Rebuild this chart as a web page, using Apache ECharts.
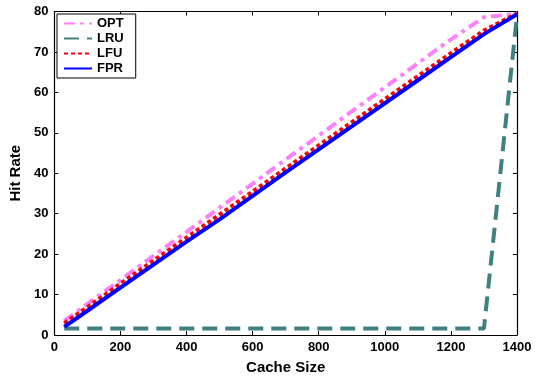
<!DOCTYPE html>
<html>
<head>
<meta charset="utf-8">
<script src="https://cdn.jsdelivr.net/npm/echarts@6/dist/echarts.min.js"></script>
<style>html,body{margin:0;padding:0;background:#fff;}#c{width:535px;height:380px;}</style>
</head>
<body>
<div id="c"></div>
<script>
var cacheSizes = [30, 100, 200, 300, 400, 500, 600, 700, 800, 900, 1000, 1100, 1200, 1300, 1400];
var optRate = [3.5, 7.7, 13.6, 19.6, 25.5, 31.5, 37.4, 43.4, 49.3, 55.3, 61.2, 67.2, 73.1, 78.6, 79.5];
var lruRate = [1.6, 1.6, 1.6, 1.6, 1.6, 1.6, 1.6, 1.6, 1.6, 1.6, 1.6, 1.6, 1.6, 1.6, 79.0];
var lfuRate = [2.9, 6.9, 12.7, 18.4, 24.1, 29.8, 35.5, 41.2, 46.9, 52.6, 58.3, 64.0, 69.7, 75.3, 79.5];
var fprRate = [2.0, 6.0, 11.7, 17.4, 23.1, 28.6, 34.4, 40.2, 45.9, 51.6, 57.3, 63.0, 68.7, 74.4, 79.3];
var seriesNames = ['OPT', 'LRU', 'LFU', 'FPR'];
var xTicks = [0, 200, 400, 600, 800, 1000, 1200, 1400];
var yTicks = [0, 10, 20, 30, 40, 50, 60, 70, 80];

function pairs(ys) { return cacheSizes.map(function (x, i) { return [x, ys[i]]; }); }

var font = 'Liberation Sans, Arial, Helvetica, sans-serif';
var chart = echarts.init(document.getElementById('c'));
var axisCommon = {
  axisLine: { show: true, onZero: false, lineStyle: { color: '#000', width: 1.2 } },
  axisTick: { show: true, inside: true, length: 4, lineStyle: { color: '#000', width: 1 } },
  splitLine: { show: false }
};
chart.setOption({
  animation: false,
  backgroundColor: '#fff',
  grid: { left: 54, right: 18, top: 11.5, bottom: 44, containLabel: false },
  legend: {
    data: seriesNames,
    orient: 'vertical',
    left: 57, top: 14,
    backgroundColor: '#fff',
    borderColor: '#000', borderWidth: 1,
    padding: [3, 12, 3, 6],
    itemGap: 2,
    itemWidth: 28, itemHeight: 12,
    itemStyle: { opacity: 0 },
    textStyle: { fontFamily: font, fontWeight: 'bold', fontSize: 13, color: '#000' }
  },
  xAxis: [
    Object.assign({}, axisCommon, {
      type: 'value', min: 0, max: 1400, interval: 200,
      name: 'Cache Size', nameLocation: 'middle', nameGap: 25,
      nameTextStyle: { fontFamily: font, fontWeight: 'bold', fontSize: 15, color: '#000' },
      axisLabel: { fontFamily: font, fontWeight: 'bold', fontSize: 13, color: '#000', margin: 6,
        formatter: function (v) { return xTicks.indexOf(v) >= 0 ? String(v) : ''; } }
    }),
    Object.assign({}, axisCommon, {
      type: 'value', min: 0, max: 1400, interval: 200, position: 'top',
      axisLabel: { show: false }
    })
  ],
  yAxis: [
    Object.assign({}, axisCommon, {
      type: 'value', min: 0, max: 80, interval: 10,
      name: 'Hit Rate', nameLocation: 'middle', nameGap: 30,
      nameTextStyle: { fontFamily: font, fontWeight: 'bold', fontSize: 15, color: '#000' },
      axisLabel: { fontFamily: font, fontWeight: 'bold', fontSize: 13, color: '#000', margin: 6,
        formatter: function (v) { return yTicks.indexOf(v) >= 0 ? String(v) : ''; } }
    }),
    Object.assign({}, axisCommon, {
      type: 'value', min: 0, max: 80, interval: 10, position: 'right',
      axisLabel: { show: false }
    })
  ],
  series: [
    { name: 'OPT', type: 'line', data: pairs(optRate), symbol: 'none', z: 2,
      itemStyle: { color: '#ff80ff' },
      lineStyle: { color: '#ff80ff', width: 4, type: [11, 5, 4, 5] } },
    { name: 'LRU', type: 'line', data: pairs(lruRate), symbol: 'none', z: 3,
      itemStyle: { color: '#408080' },
      lineStyle: { color: '#408080', width: 4, type: [15, 8] } },
    { name: 'LFU', type: 'line', data: pairs(lfuRate), symbol: 'none', z: 4,
      itemStyle: { color: '#ff0000' },
      lineStyle: { color: '#ff0000', width: 4, type: [4, 3] } },
    { name: 'FPR', type: 'line', data: pairs(fprRate), symbol: 'none', z: 5,
      itemStyle: { color: '#0000ff' },
      lineStyle: { color: '#0000ff', width: 4, type: 'solid' } }
  ]
});
</script>
</body>
</html>
